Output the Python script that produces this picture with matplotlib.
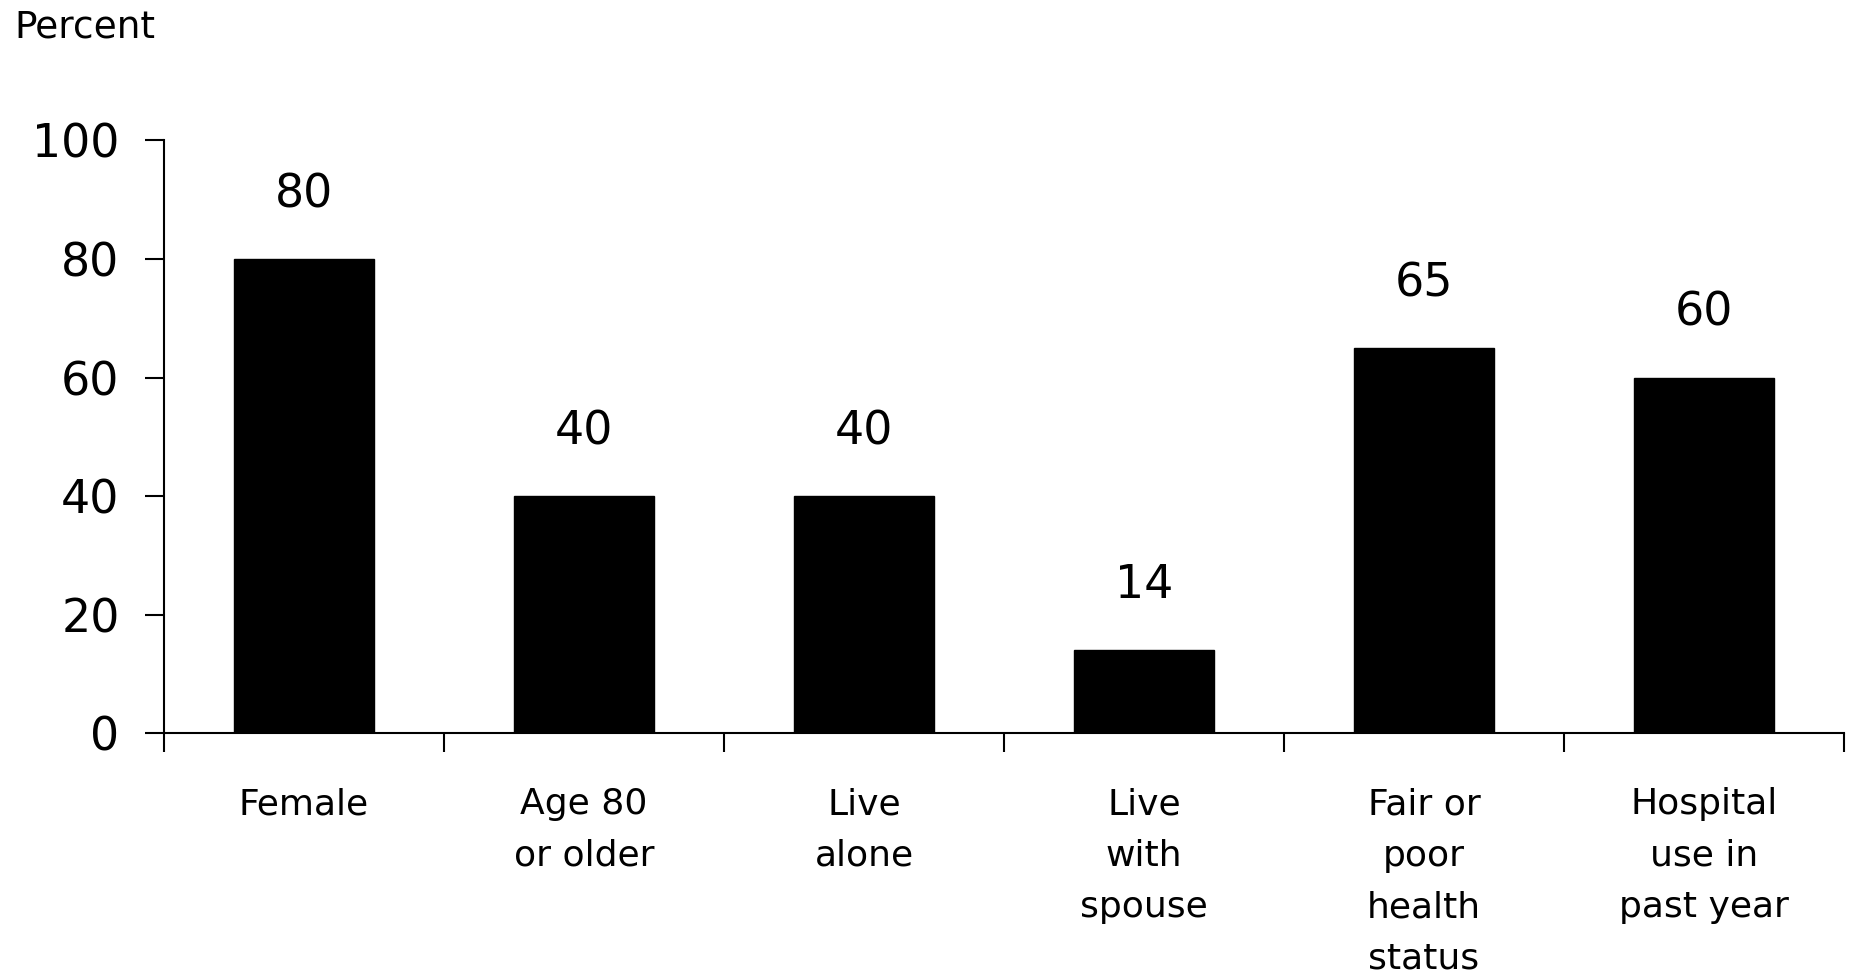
import matplotlib
matplotlib.use("Agg")
import matplotlib.pyplot as plt
import numpy as np

categories = ["Female", "Age 80\nor older", "Live\nalone", "Live\nwith\nspouse",
              "Fair or\npoor\nhealth\nstatus", "Hospital\nuse in\npast year"]
values = [80, 40, 40, 14, 65, 60]
yticks = [0, 20, 40, 60, 80, 100]

plt.rcParams["font.family"] = ["DejaVu Sans"]

fig = plt.figure(figsize=(18.51, 9.75), dpi=100)
ax = fig.add_axes([0.0886, 0.2482, 0.9076, 0.6077])

x = np.arange(len(categories))
ax.bar(x, values, width=0.5, color="black", edgecolor="black")

for xi, v in zip(x, values):
    ax.annotate(f"{v}", (xi, v), xytext=(0, 30), textcoords="offset points",
                ha="center", va="bottom", fontsize=33)

ax.set_xlim(-0.5, len(categories) - 0.5)
ax.set_ylim(0, 100)
ax.set_yticks(yticks)
ax.set_yticklabels([str(t) for t in yticks], fontsize=33)

ax.set_xticks(x)
ax.set_xticklabels(categories, fontsize=26, linespacing=1.65, va="top")
ax.set_xticks(np.arange(-0.5, len(categories)), minor=True)
ax.tick_params(axis="x", which="major", length=0, pad=39)
ax.tick_params(axis="x", which="minor", length=14, width=1.5, direction="out")
ax.tick_params(axis="y", length=14, width=1.5, direction="out", pad=18)

for side in ("top", "right"):
    ax.spines[side].set_visible(False)
for side in ("left", "bottom"):
    ax.spines[side].set_linewidth(1.5)

fig.text(0.0076, 0.972, "Percent", fontsize=27, ha="left", va="center")

fig.savefig("out.png", dpi=100)
